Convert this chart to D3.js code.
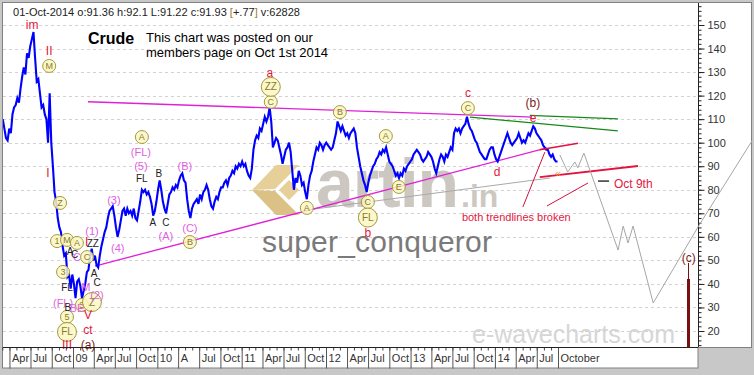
<!DOCTYPE html>
<html>
<head>
<meta charset="utf-8">
<script src="https://cdn.jsdelivr.net/npm/d3@7"></script>
<style>
body { margin: 0; background: #c8c8c8; }
svg { display: block; font-family: Arial, "Liberation Sans", sans-serif; }
</style>
</head>
<body>
<div id="div_graph"></div>
<script>
var parseDate = d3.timeParse("%Y-%m-%d");

// weekly closes, one array per year (first week given by the start date)
var start2008 = "2008-03-03";
var close2008 = [110,106,102,101,106,104,112,115,116,119,117,123,128,132,129,138,136,141,144,147,
  136,126,127,121,115,116,112,110,100,121,100,90,79,75,68,64,62,56,52,53,43,44,38,44];
var start2009 = "2009-01-05";
var close2009 = [40,34,41,42,39,34,37,40,45,46,52,55,50,52,48,47,52,56,59,62,64,68,71,72,73,69,
  64,60,63,67,71,72,69,72,70,71,69,72,68,67,71,75,80,79,80,78,79,77,74,69,71,75];
var start2010 = "2010-01-04";
var close2010 = [80,84,80,75,72,70,74,78,79,81,80,82,81,84,86,87,84,83,76,71,68,72,74,75,76,74,
  78,76,79,80,82,80,76,73,72,75,77,76,79,81,81,83,84,82,85,86,88,87,90,89,91,90];
var start2011 = "2011-01-03";
var close2011 = [92,90,91,88,86,85,89,97,101,103,102,106,105,108,111,109,111,115,109,98,100,102,
  101,98,95,91,94,97,98,100,96,88,80,85,83,88,86,82,83,79,76,82,86,88,92,95,98,97,100,99,97,99];
var start2012 = "2012-01-02";
var close2012 = [100,99,98,97,98,101,104,109,107,105,107,105,103,104,102,104,105,106,104,98,94,90,
  87,84,82,79,83,86,88,90,91,93,94,96,95,97,96,98,95,92,91,90,88,86,87,85,87,86,89,88,90,91];
var start2013 = "2012-12-31";
var close2013 = [92,93,95,96,97,96,95,93,92,93,94,96,95,94,92,89,87,90,93,95,94,92,95,94,96,98,
  97,104,106,105,106,104,106,107,108,111,108,106,105,103,101,100,98,96,95,94,93,93,95,97,98,98];
var start2014 = "2013-12-30";
var close2014 = [95,93,92,94,96,98,100,102,104,102,100,99,100,101,102,104,102,100,101,100,102,104,
  103,105,107,106,104,103,102,101,99,98,97,97,95,94,95,93,92,92];

// trendlines and projection [date, value]
var upperTrend = [["2009-03-07",117.4],["2014-06-10",110.9]];
var lowerTrend = [["2009-04-06",47.6],["2014-08-14",97.75]];
var lowerTrendExt = [["2014-07-14",97.0],["2014-12-27",99.8]];
var grayTrend = [["2011-10-10",71.4],["2014-08-27",85.0]];
var redSupport = [["2014-07-14",85.4],["2015-09-12",90.1]];
var greenTop = [["2014-06-01",111.6],["2015-06-17",110.1]];
var greenBottom = [["2013-09-15",110.9],["2015-06-17",105.0]];
var pointerA = [["2014-05-02",72.7],["2014-08-05",96.0]];
var pointerB = [["2014-08-14",73.1],["2015-02-08",82.9]];
var oct9Mark = [["2015-03-23",83.7],["2015-05-10",83.7]];
var projection = [["2014-10-09",94.8],["2014-11-12",87.6],["2014-12-13",91.8],["2014-12-26",89.3],
  ["2015-01-21",95.6],["2015-06-18",54.4],["2015-07-10",64.6],["2015-07-31",57.4],["2015-08-22",64.6],
  ["2015-11-17",31.9],["2016-05-29",64.2],["2017-01-17",100.7]];
var cBar = ["2016-04-15", 48.9, 42.1];

// wave labels [date, value, text]
var redLabels = [["2008-07-08",150.0,"im"],["2008-09-20",139.0,"II"],["2008-09-15",87.1,"I"],
  ["2009-03-01",57.8,"I"],["2009-03-07",26.8,"V"],["2009-03-07",20.4,"ct"],["2008-12-06",14.1,"III"],
  ["2011-05-03",129.6,"a"],["2012-06-30",61.6,"b"],["2013-09-06",121.1,"c"],["2014-01-10",87.6,"d"],
  ["2014-06-15",110.5,"e"]];
var maroonLabels = [["2009-03-07",14.1,"(a)"],["2014-06-14",116.9,"(b)"],["2016-04-19",51.0,"(c)"]];
var magentaLabels = [["2009-03-24",62.5,"(1)"],["2009-06-27",75.7,"(3)"],["2009-07-14",55.3,"(4)"],
  ["2009-04-15",35.3,"(2)"],["2009-02-26",38.7,"M"],["2008-11-19",31.9,"(FL)"],["2009-01-18",29.8,"BE"],
  ["2009-01-18",51.4,"C"],["2009-10-22",96.1,"(FL)"],["2009-10-22",90.1,"(5)"],["2010-04-30",90.1,"(B)"],
  ["2010-02-07",60.4,"(A)"],["2010-05-22",63.8,"(C)"]];
var blackLabels = [["2009-10-26",84.6,"FL"],["2010-01-08",86.7,"B"],["2009-12-13",65.9,"A"],
  ["2010-02-07",66.3,"C"],["2008-12-19",53.6,"A"],["2009-01-08",52.3,"C"],["2009-04-02",44.6,"A"],
  ["2009-04-15",40.8,"C"],["2008-12-06",38.3,"FL"],["2008-12-10",29.8,"B"],["2009-03-28",57.0,"ZZ"]];
var circleLabels = [["2008-09-20",132.6,"M"],["2008-11-06",74.4,"Z"],["2008-10-24",58.2,"1"],
  ["2008-12-06",58.7,"M"],["2009-01-18",57.4,"A"],["2009-03-03",51.4,"C"],["2008-11-19",45.1,"3"],
  ["2009-02-09",31.1,"S"],["2008-12-06",26.0,"5"],["2009-10-26",102.4,"A"],["2010-05-22",57.8,"B"],
  ["2011-05-07",117.3,"C"],["2012-03-01",113.0,"B"],["2012-09-16",102.8,"A"],["2012-11-11",81.2,"E"],
  ["2011-10-10",72.3,"A"],["2012-06-30",74.8,"C"],["2013-09-06",114.7,"C"]];
var bigCircleLabels = [["2011-05-07",123.7,"ZZ"],["2012-06-30",68.2,"FL"],["2008-12-06",19.6,"FL"],
  ["2009-03-24",32.3,"Z"]];
var noteBroken = ["2013-08-11", 68.4, "both trendlines broken"];
var noteOct9 = ["2015-05-31", 82.5, "Oct 9th"];
var noteArrow = ["2014-10-01", 87.1, "\u00ab"];

// axes
var yTicks = [20,30,40,50,60,70,80,90,100,110,120,130,140,150];
var yMinorTicks = d3.range(14, 159, 2);
var xTickDates = ["2008-04-01","2008-07-01","2008-10-01","2009-01-01","2009-04-01","2009-07-01","2009-10-01",
  "2010-01-01","2010-04-01","2010-07-01","2010-10-01","2011-01-01","2011-04-01","2011-07-01","2011-10-01",
  "2012-01-01","2012-04-01","2012-07-01","2012-10-01","2013-01-01","2013-04-01","2013-07-01","2013-10-01",
  "2014-01-01","2014-04-01","2014-07-01","2014-10-01"];
var xTickLabels = ["Apr","Jul","Oct","09","Apr","Jul","Oct","10","A","Jul","Oct","11","Apr","Jul","Oct",
  "12","Apr","Jul","Oct","13","Apr","Jul","Oct","14","Apr","Jul","October"];

var svg, xScale, yScale;

function weekly(start, values)
{
  var s = parseDate(start);
  return values.map(function(v, i) { return { date: d3.timeDay.offset(s, 7 * i), value: v }; });
}

function drawLine(g, pts, color, width)
{
  var line = d3.line().x(function(d) { return xScale(parseDate(d[0])); })
    .y(function(d) { return yScale(d[1]); });
  return g.append("path").attr("d", line(pts)).attr("fill", "none")
    .attr("stroke", color).attr("stroke-width", width);
}

function addLabels(g, data, color, size)
{
  g.selectAll(null).data(data).enter().append("text")
    .attr("x", function(d) { return xScale(parseDate(d[0])); })
    .attr("y", function(d) { return yScale(d[1]); })
    .attr("text-anchor", "middle").attr("dominant-baseline", "central")
    .style("font-size", size).attr("fill", color)
    .text(function(d) { return d[2]; });
}

function addCircles(g, data, r, size)
{
  var c = g.selectAll(null).data(data).enter().append("g")
    .attr("transform", function(d) { return "translate(" + xScale(parseDate(d[0])) + "," + yScale(d[1]) + ")"; });
  c.append("circle").attr("r", r).attr("fill", "#fbf6c4").attr("fill-opacity", 0.85)
    .attr("stroke", "#a49a3a").attr("stroke-width", 1);
  c.append("text").attr("text-anchor", "middle").attr("dominant-baseline", "central")
    .style("font-size", size).attr("fill", "#85801f").text(function(d) { return d[2]; });
}

function buildChart()
{
  svg = d3.select("#div_graph").append("svg").attr("width", 754).attr("height", 375);

  xScale = d3.scaleTime().domain([parseDate("2009-01-01"), parseDate("2014-10-01")]).range([73, 558]);
  yScale = d3.scaleLinear().domain([20, 150]).range([331, 25]);

  svg.append("rect").attr("width", 754).attr("height", 375).attr("fill", "#c8c8c8");
  svg.append("rect").attr("x", 2.5).attr("y", 2.5).attr("width", 749).attr("height", 345)
    .attr("fill", "#fff").attr("stroke", "#808080");
  svg.append("rect").attr("x", 2.5).attr("y", 347.5).attr("width", 695.5).attr("height", 20.5)
    .attr("fill", "#fff").attr("stroke", "#808080");

  svg.append("defs").append("clipPath").attr("id", "plotclip").append("rect")
    .attr("x", 3).attr("y", 3).attr("width", 695).attr("height", 344);
  svg.append("defs").append("clipPath").attr("id", "panelclip").append("rect")
    .attr("x", 3).attr("y", 3).attr("width", 749).attr("height", 344);

  // dashed gridlines
  svg.append("g").selectAll("line").data(yTicks).enter().append("line")
    .attr("x1", 3).attr("x2", 697)
    .attr("y1", function(d) { return Math.round(yScale(d)) + 0.5; })
    .attr("y2", function(d) { return Math.round(yScale(d)) + 0.5; })
    .attr("stroke", "#d2d2d2").attr("stroke-dasharray", "3,3");

  // watermarks
  var wm = svg.append("g");
  wm.append("path").attr("d", "M252,190 L276,165 L299,165 L275,189 Z").attr("fill", "#e6cf98");
  wm.append("path").attr("d", "M252,190 L276,215 L299,215 L275,191 Z").attr("fill", "#dbc186");
  wm.append("path").attr("d", "M279,190 L289,180 L299,190 L289,200 Z").attr("fill", "#e6cf98");
  wm.append("text").attr("x", 316).attr("y", 207).style("font-size", "68px").style("font-weight", "bold")
    .attr("fill", "#ccc8c1").attr("textLength", 143).text("artin");
  wm.append("text").attr("x", 461).attr("y", 207).style("font-size", "32px").style("font-weight", "bold")
    .attr("fill", "#ccc8c1").text(".in");
  wm.append("text").attr("x", 262).attr("y", 252).style("font-size", "30px")
    .attr("fill", "#7a7a7a").attr("textLength", 230).text("super_conqueror");
  wm.append("text").attr("x", 472).attr("y", 343).style("font-size", "25px")
    .attr("fill", "#d6d6d6").attr("textLength", 203).text("e-wavecharts.com");

  // trendlines
  var tl = svg.append("g").attr("clip-path", "url(#plotclip)");
  drawLine(tl, grayTrend, "#a9a9a9", 1);
  drawLine(tl, upperTrend, "#e020d8", 1.3);
  drawLine(tl, lowerTrend, "#e020d8", 1.3);
  drawLine(tl, greenTop, "#168a16", 1.2);
  drawLine(tl, greenBottom, "#168a16", 1.2);

  // price
  var series = [].concat(weekly(start2008, close2008), weekly(start2009, close2009),
    weekly(start2010, close2010), weekly(start2011, close2011), weekly(start2012, close2012),
    weekly(start2013, close2013), weekly(start2014, close2014));
  var valueline = d3.line().x(function(d) { return xScale(d.date); })
    .y(function(d) { return yScale(d.value); });
  tl.append("path").datum(series).attr("d", valueline).attr("fill", "none")
    .attr("stroke", "#0000ff").attr("stroke-width", 2.1).attr("stroke-linejoin", "miter");

  drawLine(tl, lowerTrendExt, "#e3123e", 1.5);
  drawLine(tl, redSupport, "#e3123e", 1.8);
  drawLine(tl, pointerA, "#d4103c", 1);
  drawLine(tl, pointerB, "#d4103c", 1);
  drawLine(tl, oct9Mark, "#000", 1.2);

  // labels
  var lb = svg.append("g");
  addCircles(lb, circleLabels, 6.5, "9px");
  addCircles(lb, bigCircleLabels, 9.5, "10px");
  addLabels(lb, redLabels, "#e3173e", "12px");
  addLabels(lb, maroonLabels, "#7d1a1a", "12px");
  addLabels(lb, magentaLabels, "#e060e0", "11px");
  addLabels(lb, blackLabels, "#222", "10px");
  lb.append("text").attr("x", xScale(parseDate(noteBroken[0]))).attr("y", yScale(noteBroken[1]))
    .attr("dominant-baseline", "central").style("font-size", "11px").attr("fill", "#e3173e").text(noteBroken[2]);
  lb.append("text").attr("x", xScale(parseDate(noteOct9[0]))).attr("y", yScale(noteOct9[1]))
    .attr("dominant-baseline", "central").style("font-size", "12px").attr("fill", "#e3173e").text(noteOct9[2]);
  lb.append("text").attr("x", xScale(parseDate(noteArrow[0]))).attr("y", yScale(noteArrow[1]))
    .attr("text-anchor", "middle").attr("dominant-baseline", "central")
    .style("font-size", "11px").attr("fill", "#d49a4a").text(noteArrow[2]);

  // header texts
  var hd = svg.append("text").attr("x", 13).attr("y", 16).style("font-size", "11px").attr("fill", "#222")
    .attr("textLength", 287).attr("lengthAdjust", "spacingAndGlyphs");
  hd.append("tspan").text("01-Oct-2014  o:91.36 h:92.1 L:91.22 c:91.93 ");
  hd.append("tspan").attr("fill", "#a07828").text("[");
  hd.append("tspan").text("+.77");
  hd.append("tspan").attr("fill", "#a07828").text("]");
  hd.append("tspan").text(" v:62828");
  svg.append("text").attr("x", 88).attr("y", 44).style("font-size", "16px").style("font-weight", "bold")
    .attr("fill", "#000").text("Crude");
  svg.append("text").attr("x", 146).attr("y", 42).style("font-size", "13px").attr("fill", "#000")
    .text("This chart was posted on our");
  svg.append("text").attr("x", 146).attr("y", 57).style("font-size", "13px").attr("fill", "#000")
    .text("members page on Oct 1st 2014");

  // y axis
  var yAxisMinor = d3.axisRight(yScale).tickValues(yMinorTicks).tickSize(3).tickFormat("");
  var yAxisMajor = d3.axisRight(yScale).tickValues(yTicks).tickSize(6).tickPadding(3);
  var ya = svg.append("g").attr("transform", "translate(698.5,0)").call(yAxisMinor);
  var yb = svg.append("g").attr("transform", "translate(698.5,0)").call(yAxisMajor);
  ya.select(".domain").remove();
  yb.select(".domain").remove();
  yb.selectAll("text").style("font-size", "11px").attr("fill", "#333").attr("font-family", null);
  svg.selectAll(".tick line").attr("stroke", "#222");
  svg.append("line").attr("x1", 698.5).attr("x2", 698.5).attr("y1", 3).attr("y2", 347)
    .attr("stroke", "#222");

  // x axis
  var monthTicks = d3.timeMonth.range(parseDate("2008-03-01"), parseDate("2014-10-02"));
  var xAxisMinor = d3.axisBottom(xScale).tickValues(monthTicks).tickSize(3).tickFormat("");
  var xAxisMajor = d3.axisBottom(xScale).tickValues(xTickDates.map(parseDate)).tickSize(21)
    .tickFormat(function(d, i) { return xTickLabels[i]; });
  var xa = svg.append("g").attr("transform", "translate(0,347.5)").call(xAxisMinor);
  var xb = svg.append("g").attr("transform", "translate(0,347.5)").call(xAxisMajor);
  xa.select(".domain").remove();
  xb.select(".domain").remove();
  xa.selectAll(".tick line").attr("stroke", "#444");
  xb.selectAll(".tick line").attr("stroke", "#555");
  xb.selectAll("text").attr("x", 2).attr("y", 14.5).attr("dy", null).style("text-anchor", "start")
    .style("font-size", "11px").attr("fill", "#333");
  svg.append("line").attr("x1", 3).attr("x2", 698).attr("y1", 347.5).attr("y2", 347.5).attr("stroke", "#222");

  // projection path and (c) bar
  var pj = svg.append("g").attr("clip-path", "url(#panelclip)");
  drawLine(pj, projection, "#a6a6a6", 1);
  var bx = Math.round(xScale(parseDate(cBar[0])));
  pj.append("line").attr("x1", bx + 0.5).attr("x2", bx + 0.5).attr("y1", yScale(cBar[1])).attr("y2", yScale(cBar[2]))
    .attr("stroke", "#7a0f0f").attr("stroke-width", 1);
  pj.append("rect").attr("x", bx - 1).attr("y", yScale(cBar[2])).attr("width", 3)
    .attr("height", 347 - yScale(cBar[2])).attr("fill", "#7a0f0f");
}

buildChart();
</script>
</body>
</html>
